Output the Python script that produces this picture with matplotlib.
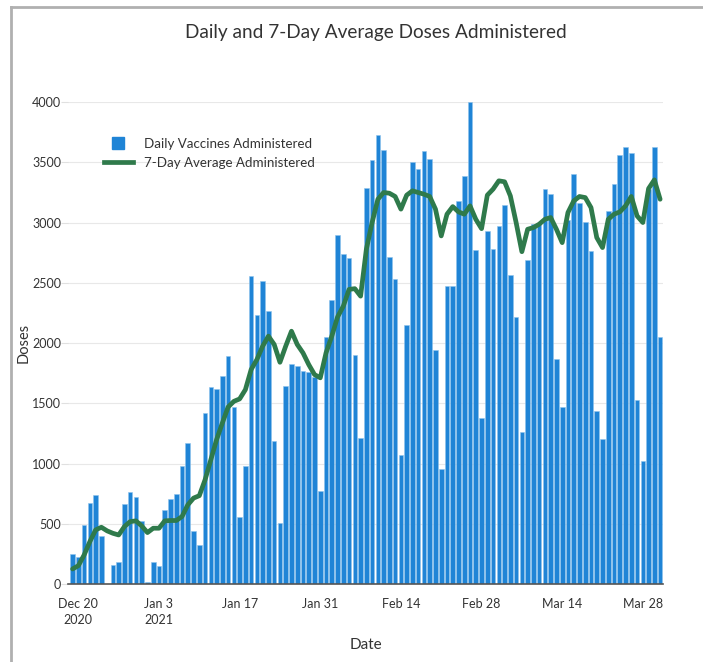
import numpy as np
import pandas as pd
import matplotlib
matplotlib.use("Agg")
import matplotlib.pyplot as plt
from matplotlib.lines import Line2D

plt.rcParams['font.family'] = ['Lato', 'DejaVu Sans']

# one value per day, Dec 19 2020 .. Mar 31 2021
dates = pd.date_range('2020-12-19', '2021-03-31', freq='D')

daily = [
    245, 227, 493, 673, 737, 397, 0, 158, 183, 663, 763, 718, 524,          # Dec 19-31
    15, 180, 152, 613, 707, 746, 976, 1170, 443, 322, 1422, 1636, 1617,
    1730, 1894, 1472, 560, 979, 2555, 2231, 2514, 2268, 1187, 505, 1644,
    1827, 1810, 1771, 1760, 1716, 776,                                       # Jan
    2049, 2357, 2897, 2742, 2708, 1902, 1213, 3285, 3520, 3726, 3601, 2714,
    2528, 1073, 2146, 3504, 3440, 3590, 3526, 1938, 954, 2473, 2476, 3177,
    3382, 4000, 2772, 1378,                                                  # Feb
    2933, 2783, 2972, 3149, 2567, 2215, 1259, 2686, 2991, 2994, 3282, 3238,
    1871, 1469, 3019, 3399, 3158, 3002, 2764, 1439, 1203, 3094, 3316, 3559,
    3626, 3576, 1530, 1017, 3277, 3626, 2054,                                # Mar
]

avg7 = [
    125, 152, 241, 352, 449, 471, 441, 421, 407, 477, 518, 524, 482,
    427, 463, 463, 524, 527, 527, 560, 657, 713, 733, 865, 1031, 1198,
    1336, 1469, 1516, 1536, 1613, 1780, 1863, 1974, 2057, 1988, 1840, 1974,
    2098, 1988, 1918, 1821, 1738, 1711,
    1918, 2057, 2216, 2306, 2445, 2451, 2389, 2778, 3000, 3193, 3249, 3243,
    3216, 3111, 3227, 3263, 3249, 3235, 3216, 3111, 2889, 3069, 3132, 3088,
    3069, 3138, 3027, 2949,
    3227, 3277, 3346, 3338, 3221, 3000, 2758, 2944, 2958, 2986, 3027, 3041,
    2944, 2833, 3083, 3179, 3216, 3207, 3124, 2875, 2792, 3027, 3069, 3088,
    3138, 3216, 3055, 3000, 3282, 3354, 3193,
]

tick_dates = pd.to_datetime(['2020-12-20', '2021-01-03', '2021-01-17', '2021-01-31',
                             '2021-02-14', '2021-02-28', '2021-03-14', '2021-03-28'])
tick_labels = ['Dec 20\n2020', 'Jan 3\n2021', 'Jan 17', 'Jan 31',
               'Feb 14', 'Feb 28', 'Mar 14', 'Mar 28']

bar_color = '#1f84d6'
line_color = '#2f7a4b'
text_color = '#333333'

fig = plt.figure(figsize=(7.03, 6.62), dpi=100)
ax = fig.add_axes([0.0967, 0.1178, 0.8464, 0.7281])

ax.bar(dates, daily, width=0.8, color=bar_color, edgecolor='#8fc3ec', linewidth=0.4,
       zorder=2)
ax.plot(dates, avg7, color=line_color, linewidth=3.4, solid_joinstyle='round',
        solid_capstyle='round', zorder=3)

ax.set_xlim(dates[0] - pd.Timedelta(days=0.8), dates[-1] + pd.Timedelta(days=0.5))
ax.set_ylim(0, 4000)
ax.set_yticks(range(0, 4001, 500))
ax.set_xticks(tick_dates)
ax.set_xticklabels(tick_labels, linespacing=1.4)

ax.grid(axis='y', color='#e8e8e8', linewidth=0.8, zorder=0)
for side in ['top', 'right', 'left']:
    ax.spines[side].set_visible(False)
ax.spines['bottom'].set_color('#555555')
ax.spines['bottom'].set_linewidth(1.2)
ax.tick_params(axis='y', length=5, color='#e0e0e0', labelsize=9, labelcolor=text_color, pad=0)
ax.tick_params(axis='x', length=0, labelsize=9, labelcolor=text_color, pad=10)

ax.set_xlabel('Date', fontsize=11, color=text_color, labelpad=9)
ax.set_ylabel('Doses', fontsize=10.5, color=text_color)
ax.yaxis.set_label_coords(-0.062, 0.5)
fig.text(0.535, 0.951, 'Daily and 7-Day Average Doses Administered',
         ha='center', va='center', fontsize=13.7, color=text_color)

handles = [
    Line2D([], [], marker='s', linestyle='none', markersize=9, color=bar_color),
    Line2D([], [], color=line_color, linewidth=3.4),
]
ax.legend(handles, ['Daily Vaccines Administered', '7-Day Average Administered'],
          loc='upper left', bbox_to_anchor=(0.04, 0.95), frameon=False,
          fontsize=9.6, handlelength=2.2, labelspacing=0.5, handletextpad=0.8,
          labelcolor=text_color)

# grey panel border (top and left)
fig.add_artist(Line2D([0.0156, 0.0156], [0, 0.9895], transform=fig.transFigure,
                      color='#b0b0b0', linewidth=2))
fig.add_artist(Line2D([0.0156, 1], [0.9895, 0.9895], transform=fig.transFigure,
                      color='#b0b0b0', linewidth=2))

fig.savefig('out.png', dpi=100)
